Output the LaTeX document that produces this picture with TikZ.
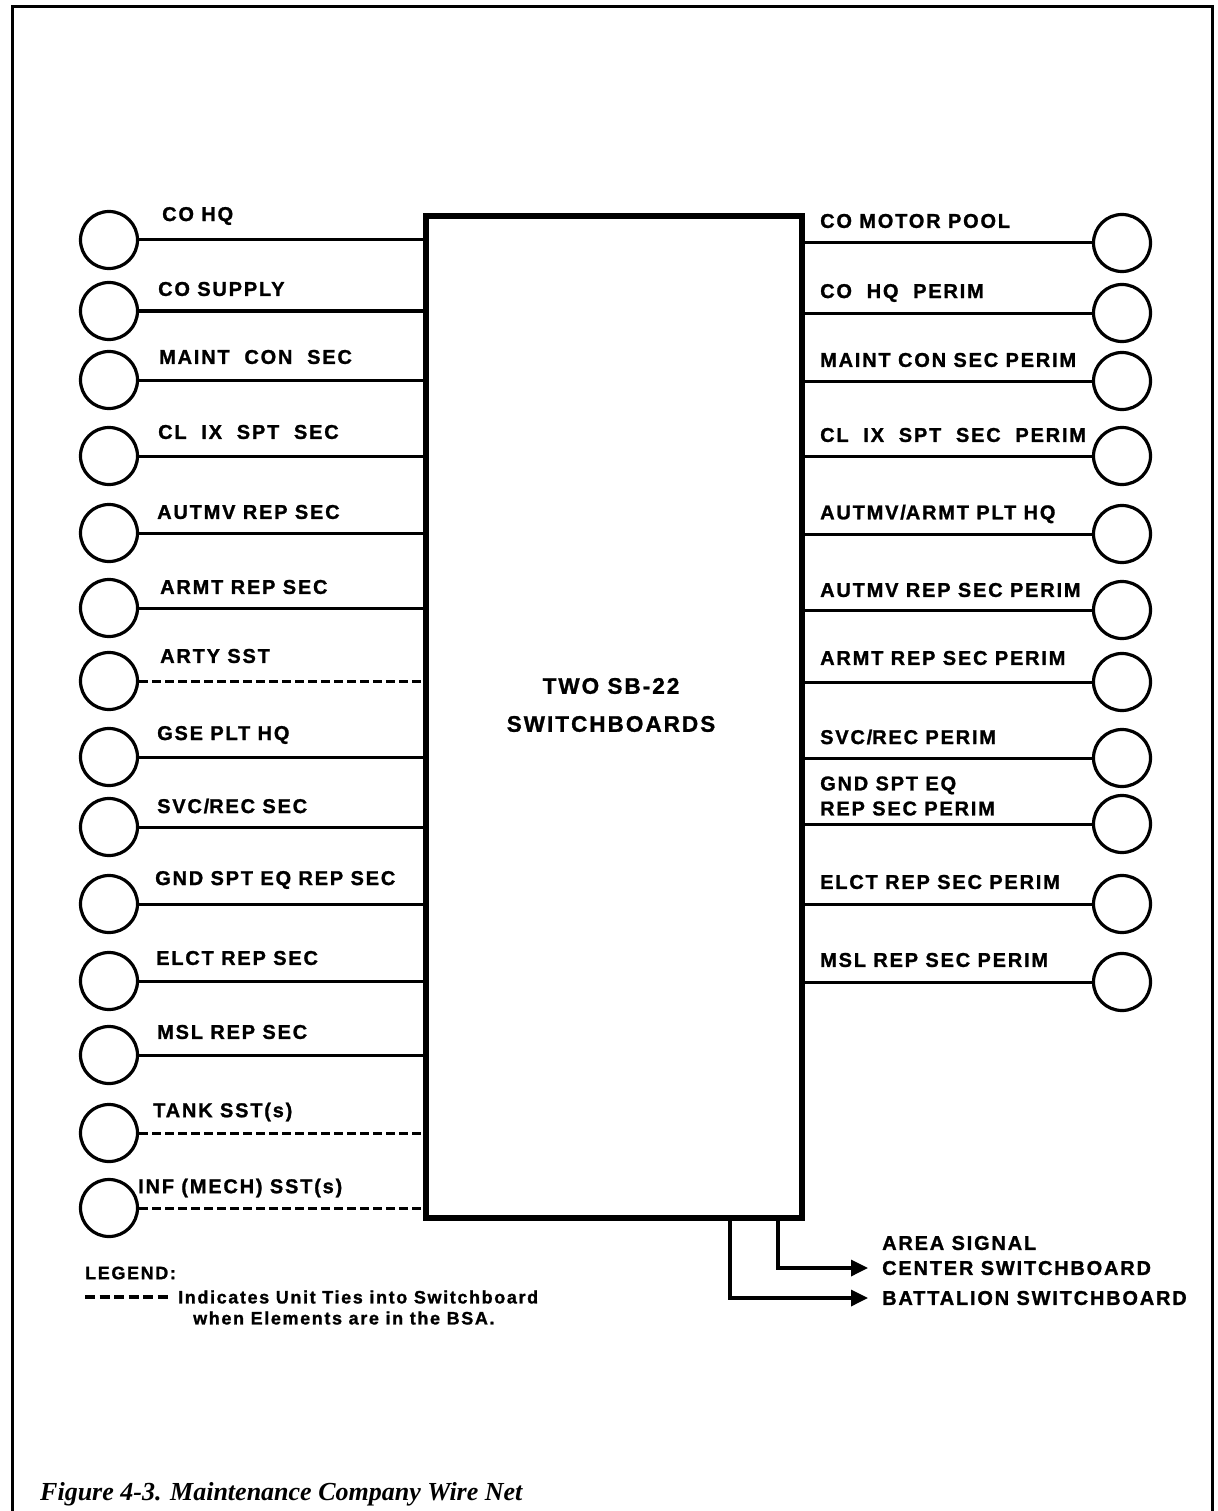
\documentclass[tikz,border=0pt]{standalone}
\usepackage{fontspec}
\setmainfont{Liberation Sans}
\newfontfamily\lblfont{Liberation Sans}[LetterSpace=9, BoldFeatures={FakeBold=1.2}]
\newfontfamily\capfont{Liberation Serif}
\usetikzlibrary{arrows.meta}
\begin{document}
\begin{tikzpicture}[x=1pt,y=-1pt,
  stn/.style={draw, circle, line width=3.2pt, minimum size=57pt, inner sep=0pt},
  lbl/.style={font=\lblfont\bfseries\fontsize{20}{25}\selectfont, anchor=west, inner sep=0pt, align=left},
  leg/.style={font=\lblfont\bfseries\fontsize{18}{21}\selectfont, anchor=west, inner sep=0pt},
  wire/.style={line width=3pt},
  tie/.style={line width=3pt, dash pattern=on 9pt off 4pt},
  feed/.style={line width=3.4pt, -{Triangle[length=17pt,width=16pt]}},
  frame/.style={line width=3pt}]
\useasboundingbox (0,0) rectangle (1217,1511);
\clip (0,0) rectangle (1217,1511);
% outer frame (bottom edge lies below the visible area)
\coordinate (fbl) at (12,1540);
\coordinate (ftl) at (12,7);
\coordinate (ftr) at (1212,7);
\coordinate (fbr) at (1212,1540);
\draw[frame] (fbl) -- (ftl) -- (ftr) -- (fbr);
% switchboard
\node[draw, line width=6.5pt, minimum width=376pt, minimum height=1002pt, inner sep=0pt] (sb) at (614,717) {};
\node[font=\lblfont\bfseries\fontsize{22.5}{38}\selectfont, align=center] (sbt) at (611,705) {TWO SB-22\\SWITCHBOARDS};
% left stations
\foreach \i/\y/\lx/\ly/\s/\t in {
  1/240/162/216/wire/{CO HQ},
  2/311/158/289/wire/{CO SUPPLY},
  3/380/159/357/wire/{MAINT~ CON~ SEC},
  4/456/158/432/wire/{CL~ IX~ SPT~ SEC},
  5/533/157/512/wire/{AUTMV REP SEC},
  6/608/160/587/wire/{ARMT REP SEC},
  7/681/160/656/tie/{ARTY SST},
  8/757/157/735/wire/{GSE PLT HQ},
  9/827/157/806/wire/{SVC\slash REC SEC},
  10/904/155/880/wire/{GND SPT EQ REP SEC},
  11/981/156/958/wire/{ELCT REP SEC},
  12/1055/157/1032/wire/{MSL REP SEC},
  13/1133/153/1112/tie/{TANK SST(s)},
  14/1208/138/1188/tie/{INF (MECH) SST(s)}}
{
  \node[stn] (l\i) at (109,\y) {};
  \node[lbl] (tl\i) at (\lx,\ly) {\t};
  \draw[\s] (l\i.east) -- (l\i.east -| sb.west);
}
% right stations
\foreach \i/\y/\ly/\t in {
  1/243/221/{CO MOTOR POOL},
  2/313/293/{CO~ HQ~ PERIM},
  3/381/360/{MAINT CON SEC PERIM},
  4/456/435/{CL~ IX~ SPT~ SEC~ PERIM},
  5/534/514/{AUTMV\slash ARMT PLT HQ},
  6/610/590/{AUTMV REP SEC PERIM},
  7/682/658/{ARMT REP SEC PERIM},
  8/758/737/{SVC\slash REC PERIM},
  9/824/796/{GND SPT EQ\\REP SEC PERIM},
  10/904/882/{ELCT REP SEC PERIM},
  11/982/960/{MSL REP SEC PERIM}}
{
  \node[stn] (r\i) at (1122,\y) {};
  \node[lbl] (tr\i) at (820,\ly) {\t};
  \draw[wire] (sb.east |- r\i.west) -- (r\i.west);
}
% outgoing trunks
\node[lbl] (asc1) at (882,1243) {AREA SIGNAL};
\node[lbl] (asc2) at (882,1268) {CENTER SWITCHBOARD};
\node[lbl] (bat) at (882,1298) {BATTALION SWITCHBOARD};
\coordinate (o1) at (778,1218);
\coordinate (o2) at (730,1218);
\draw[feed] (o1) |- ([xshift=-14pt]asc2.west);
\draw[feed] (o2) |- ([xshift=-14pt]bat.west);
% legend
\node[leg] (legh) at (85,1273) {LEGEND:};
\node[leg] (leg1) at (178,1297) {Indicates Unit Ties into Switchboard};
\node[leg] (leg2) at (193,1318) {when Elements are in the BSA.};
\coordinate (ls) at (85,1297);
\draw[tie, line width=3.4pt, dash pattern=on 10pt off 4.5pt] (ls) -- ([xshift=-8pt]leg1.west);
% caption
\node[font=\capfont\bfseries\itshape\fontsize{26}{30}\selectfont, anchor=base west, inner sep=0pt] (cap) at (40,1500) {Figure 4-3. Maintenance Company Wire Net};
\end{tikzpicture}
\end{document}
